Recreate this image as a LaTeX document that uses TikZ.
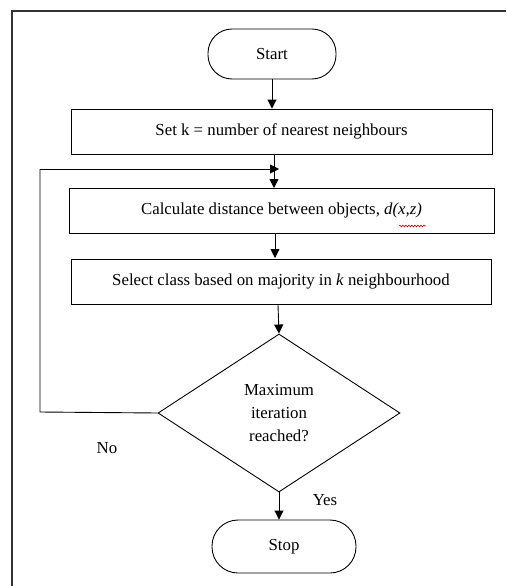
\documentclass[tikz,border=0pt]{standalone}
\usepackage{fontspec}
\setmainfont{Liberation Serif}
\usetikzlibrary{shapes.geometric,arrows.meta,decorations.pathmorphing}
\begin{document}
\begin{tikzpicture}[x=1pt,y=-1pt,
  every node/.style={font=\fontsize{16.8}{22}\selectfont},
  procbox/.style={draw, line width=0.9pt, minimum height=45pt, inner sep=0pt},
  term/.style={draw, line width=0.9pt, rounded corners=24pt, minimum height=50pt, inner sep=0pt},
  decis/.style={draw, diamond, line width=0.9pt, minimum width=242pt, minimum height=158pt, inner sep=0pt, align=center, font=\fontsize{16.8}{23}\selectfont},
  flow/.style={line width=0.9pt, -{Triangle[length=9pt,width=9pt]}},
  plain/.style={line width=0.9pt}]
\useasboundingbox (0,0) rectangle (506,586);
\fill[white] (0,0) rectangle (506,586);
\draw[line width=1.3pt, black!80] (12,586) -- (12,11) -- (506,11);

\node[term, minimum width=128pt] (start) at (272,54) {Start};
\node[procbox, minimum width=421pt] (set) at (281.5,131.5) {Set k = number of nearest neighbours};
\node[procbox, minimum width=425pt] (calc) at (281.5,210.5) {Calculate distance between objects, \textit{d(x,z)}};
\node[procbox, minimum width=420pt] (sel) at (281,281.5) {Select class based on majority in \textit{k} neighbourhood};
\node[decis] (dec) at (279,413) {Maximum\\iteration\\reached?};
\node[term, minimum width=144pt, minimum height=53pt, rounded corners=26pt] (stop) at (284,546.5) {Stop};

\node (no) at (107,448) {No};
\node (yes) at (325,500) {Yes};

\coordinate (lb) at (40,412);
\coordinate (lt) at (40,169);
\coordinate (lend) at (279,169);

\draw[flow] (start.south) -- (start.south |- set.north);
\draw[flow] (274,154) -- (274,188);
\draw[flow] (275,233) -- (275,258);
\draw[flow] (278,305) -- (dec.north);
\draw[flow] (dec.south) -- (dec.south |- stop.north);
\draw[plain] (dec.west) -- (lb) -- (lt);
\draw[flow] (lt) -- (lend);

\draw[red!80!black, line width=0.6pt, decorate, decoration={snake, amplitude=0.9pt, segment length=3pt}] (399,226) -- (426,226);
\end{tikzpicture}
\end{document}
